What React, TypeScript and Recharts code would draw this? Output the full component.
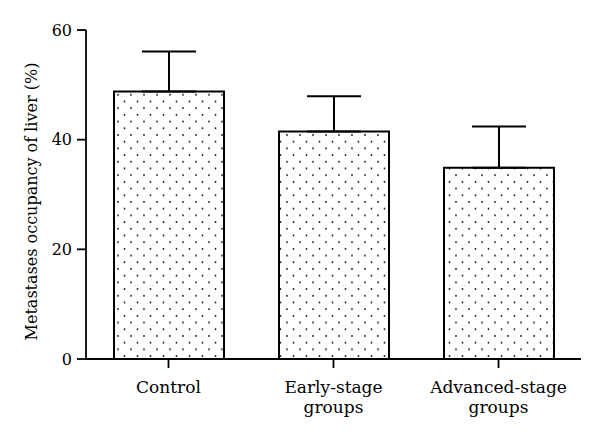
import React from 'react';
import { BarChart, Bar, XAxis, YAxis, ErrorBar } from 'recharts';

const categories = ['Control', 'Early-stage\ngroups', 'Advanced-stage\ngroups'];
const means = [48.8, 41.5, 34.9];
const sdUp = [7.3, 6.4, 7.5];
const yTicks = [0, 20, 40, 60];
const yLabel = 'Metastases occupancy of liver (%)';

const data = categories.map((name, i) => ({ name, value: means[i], err: [0, sdUp[i]] }));

const FONT = 'DejaVu Serif, serif';

const XTick = (props: any) => {
  const { x, y, payload } = props;
  const lines = String(payload.value).split('\n');
  return (
    <g transform={`translate(${x},${y})`}>
      <text textAnchor="middle" style={{ fontFamily: FONT }} fontSize={17} fill="#000">
        {lines.map((l, i) => (
          <tspan key={i} x={0} y={23 + i * 20}>{l}</tspan>
        ))}
      </text>
    </g>
  );
};

const YLabel = (props: any) => {
  const vb = props.viewBox || { x: 0, y: 0, width: 0, height: 0 };
  const cx = vb.x + 31;
  const cy = vb.y + vb.height / 2 + 7;
  return (
    <text
      x={cx}
      y={cy}
      transform={`rotate(-90, ${cx}, ${cy})`}
      textAnchor="middle"
      dominantBaseline="central"
      style={{ fontFamily: FONT }}
      fontSize={16}
      fill="#000"
    >
      {yLabel}
    </text>
  );
};

export default function App() {
  return (
    <div style={{ position: 'fixed', left: 0, top: 0, background: '#fff' }}>
      <BarChart
        width={600}
        height={439}
        data={data}
        margin={{ top: 30, right: 19, bottom: 0, left: 0 }}
      >
        <defs>
          <pattern id="dots" patternUnits="userSpaceOnUse" width={13} height={13.4} x={117} y={0}>
            <rect x={0} y={0} width={13} height={13.4} fill="#fff" />
            <circle cx={1} cy={1} r={0.9} fill="#111" />
            <circle cx={7.5} cy={7.7} r={0.9} fill="#111" />
          </pattern>
        </defs>
        <XAxis
          dataKey="name"
          height={80}
          tick={<XTick />}
          tickSize={9}
          axisLine={{ stroke: '#000', strokeWidth: 1.8 }}
          tickLine={{ stroke: '#000', strokeWidth: 1.8 }}
          interval={0}
        />
        <YAxis
          width={86}
          domain={[0, 60]}
          ticks={yTicks}
          tickSize={9}
          tickMargin={5}
          axisLine={{ stroke: '#000', strokeWidth: 1.8 }}
          tickLine={{ stroke: '#000', strokeWidth: 1.8 }}
          tick={{ fill: '#000', fontSize: 16, style: { fontFamily: FONT } }}
          label={<YLabel />}
        />
        <Bar
          dataKey="value"
          barSize={110}
          fill="url(#dots)"
          stroke="#000"
          strokeWidth={2}
          isAnimationActive={false}
        >
          <ErrorBar dataKey="err" width={27} stroke="#000" strokeWidth={2} direction="y" />
        </Bar>
      </BarChart>
    </div>
  );
}
